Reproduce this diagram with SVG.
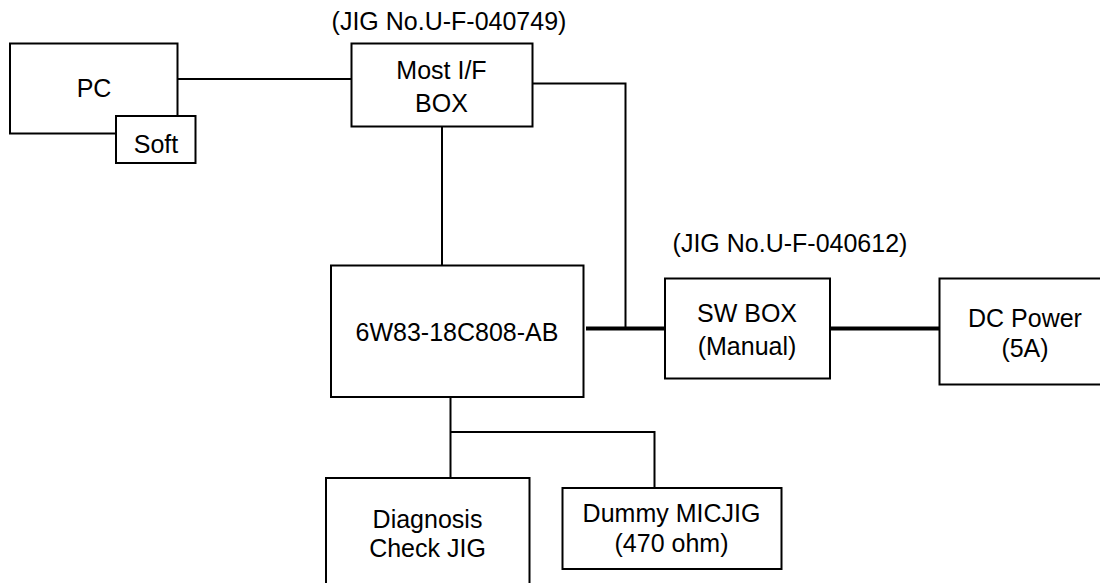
<svg xmlns="http://www.w3.org/2000/svg" width="1100" height="583" viewBox="0 0 1100 583">
<style>
.box{fill:#fff;stroke:#000;stroke-width:2}
.ln{fill:none;stroke:#000;stroke-width:2}
.thick{fill:none;stroke:#000;stroke-width:4}
text{font-family:"Liberation Sans",Arial,sans-serif;font-size:25px;fill:#000;text-anchor:middle}
</style>
<rect width="1100" height="583" fill="#fff"/>
<g id="connectors">
<line class="ln" x1="177" y1="79" x2="353" y2="79"/>
<polyline class="ln" points="532,83.5 625.5,83.5 625.5,328.5"/>
<line class="ln" x1="442" y1="127" x2="442" y2="265"/>
<line class="thick" x1="586" y1="328.5" x2="665" y2="328.5"/>
<line class="thick" x1="830" y1="328.5" x2="939" y2="328.5"/>
<polyline class="ln" points="450.5,397 450.5,478"/>
<polyline class="ln" points="450.5,432 654.5,432 654.5,488"/>
</g>
<g id="pc">
<rect class="box" x="10" y="43.5" width="167.5" height="90"/>
<text x="94" y="97">PC</text>
</g>
<g id="soft">
<rect class="box" x="116" y="116" width="79.5" height="47"/>
<text x="156" y="153">Soft</text>
</g>
<g id="most">
<text x="449" y="30">(JIG No.U-F-040749)</text>
<rect class="box" x="351.5" y="43.5" width="181" height="83"/>
<text x="441.5" y="78.5">Most I/F</text>
<text x="441.5" y="111.5">BOX</text>
</g>
<g id="ecu">
<rect class="box" x="331" y="265.5" width="252.5" height="131.5"/>
<text x="457" y="341">6W83-18C808-AB</text>
</g>
<g id="swbox">
<text x="790" y="252">(JIG No.U-F-040612)</text>
<rect class="box" x="665" y="278.5" width="165" height="100"/>
<text x="747" y="322">SW BOX</text>
<text x="747" y="355">(Manual)</text>
</g>
<g id="dcpower">
<rect class="box" x="939.5" y="278.5" width="170" height="106"/>
<text x="1025" y="327">DC Power</text>
<text x="1025" y="357">(5A)</text>
</g>
<g id="diagnosis">
<rect class="box" x="326" y="478" width="203.5" height="120"/>
<text x="427.5" y="527.5">Diagnosis</text>
<text x="427.5" y="557">Check JIG</text>
</g>
<g id="dummy">
<rect class="box" x="562.5" y="488" width="219" height="81"/>
<text x="671.5" y="522">Dummy MICJIG</text>
<text x="671.5" y="552">(470 ohm)</text>
</g>
</svg>
